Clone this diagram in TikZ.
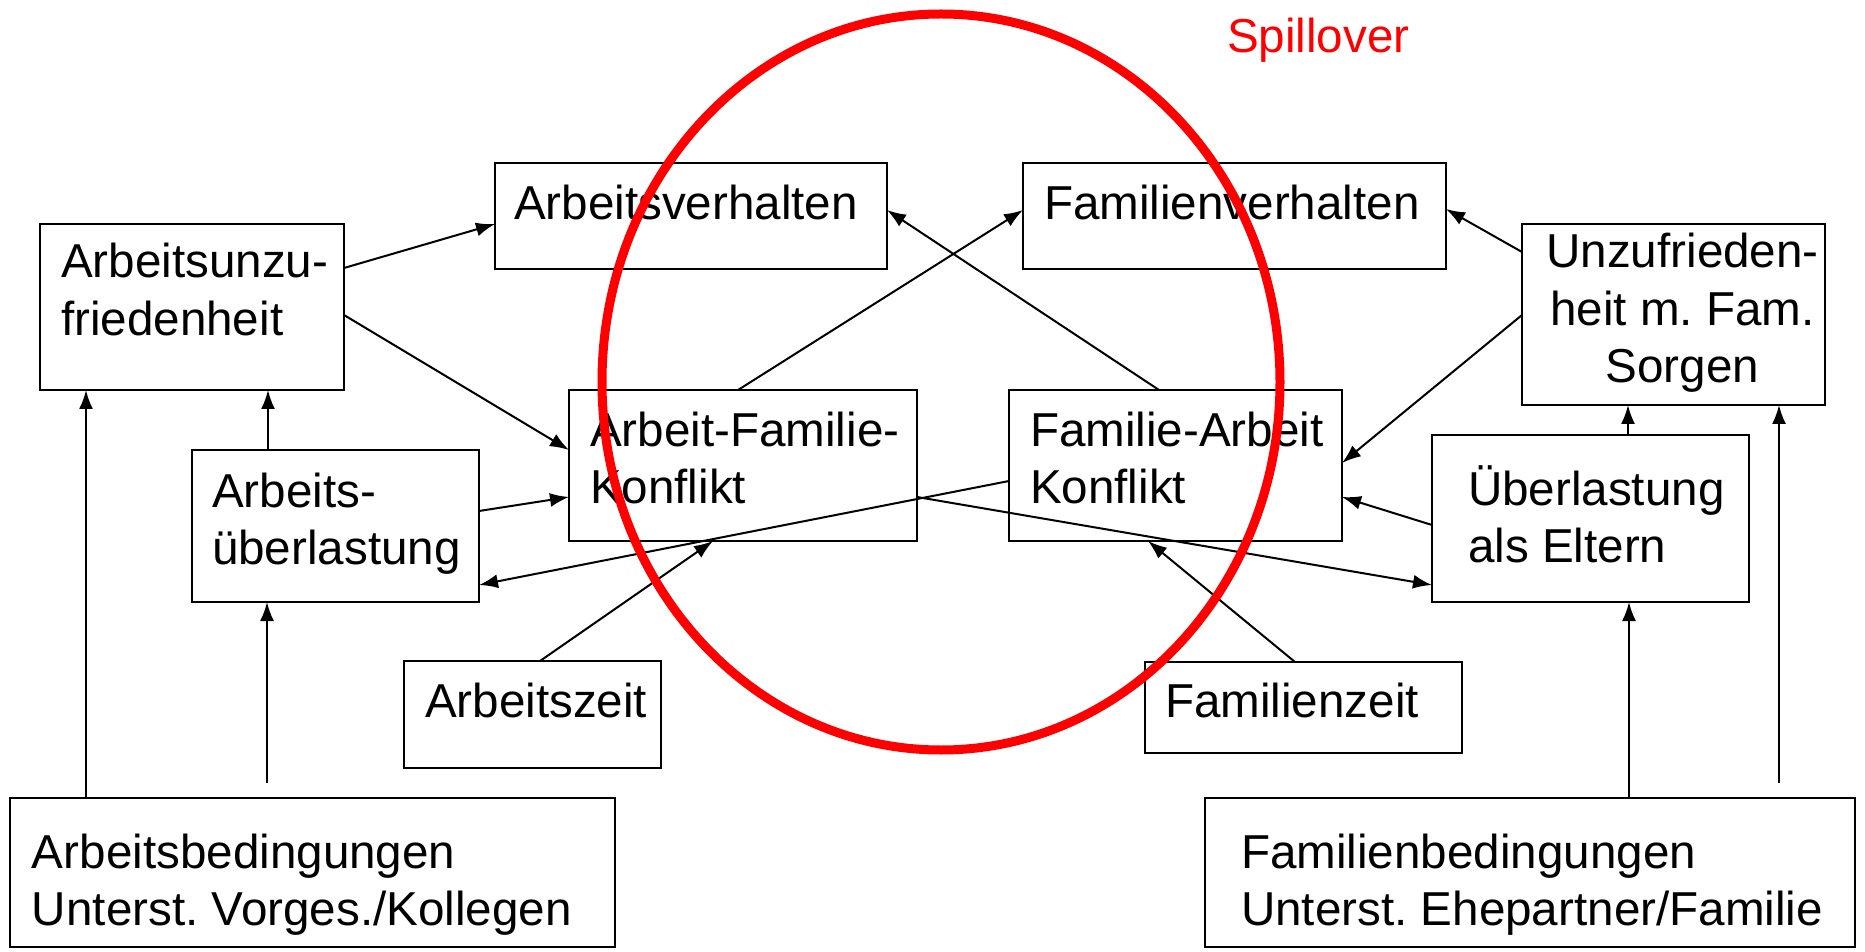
\documentclass[tikz,border=0pt]{standalone}
\usepackage{fontspec}
\setmainfont{Liberation Sans}
\usepackage{tikz}
\usetikzlibrary{calc,arrows.meta}
\frenchspacing

\newdimen\pxu \pxu=0.5pt
\newcommand{\feld}[5]{\parbox[c][#2\pxu][t]{#1\pxu}{\raggedright\leftskip=#3\pxu\rule{0pt}{#4\pxu}#5}}
\newcommand{\feldmitte}[5]{\parbox[c][#2\pxu][t]{#1\pxu}{\centering\leftskip=#3\pxu plus 1fil\rule{0pt}{#4\pxu}#5}}

\begin{document}
\begin{tikzpicture}[x=0.5pt,y=-0.5pt,line width=1pt,
  >={Latex[length=9.5pt,width=7pt]},
  font=\fontsize{23.8}{28.7}\selectfont,
  kasten/.style={draw,inner sep=0pt,outer sep=0pt,anchor=north west}]
\useasboundingbox (0,0) rectangle (1865,952);

\node[kasten] (av) at (495,163) {\feld{392}{106}{19}{57}{Arbeitsverhalten}};
\node[kasten] (fv) at (1023,163) {\feld{423}{106}{21}{57}{Familienverhalten}};
\node[kasten] (au) at (40,224) {\feld{304}{166}{21}{54}{Arbeitsunzu-\\friedenheit}};
\node[kasten] (uf) at (1522,224) {\feldmitte{303}{181}{18}{44}{Unzufrieden-\\heit m. Fam.\\Sorgen}};
\node[kasten] (afk) at (569,390) {\feld{348}{151}{21}{56}{Arbeit-Familie-\\Konflikt}};
\node[kasten] (fak) at (1009,390) {\feld{333}{151}{21}{56}{Familie-Arbeit\\Konflikt}};
\node[kasten] (aue) at (192,450) {\feld{287}{152}{20}{57}{Arbeits-\\überlastung}};
\node[kasten] (ue) at (1432,435) {\feld{317}{167}{36}{70}{Überlastung\\als Eltern}};
\node[kasten] (az) at (404,661) {\feld{257}{107}{21}{56}{Arbeitszeit}};
\node[kasten] (fz) at (1145,662) {\feld{317}{91}{20}{55}{Familienzeit}};
\node[kasten] (ab) at (10,798) {\feld{605}{149}{22}{70}{Arbeitsbedingungen\\Unterst. Vorges./Kollegen}};
\node[kasten] (fb) at (1205,798) {\feld{650}{149}{36}{70}{Familienbedingungen\\Unterst. Ehepartner/Familie}};
\node[text=red,inner sep=0pt,anchor=base west] (spill) at (1226,53) {Spillover};

\coordinate (abpfeil) at (267,783);
\coordinate (fbpfeil) at (1779,783);

\draw[->] ($(au.north east)+(0,44)$) -- ($(av.north west)+(0,61)$);
\draw[->] ($(au.north east)+(0,91)$) -- ($(afk.north west)+(0,60)$);
\draw[->] ($(aue.north west)+(76,0)$) -- ($(au.south west)+(228,0)$);
\draw[->] ($(ab.north west)+(76,0)$) -- ($(au.south west)+(46,0)$);
\draw[->] (abpfeil) -- (abpfeil |- aue.south);
\draw[->] ($(aue.north east)+(0,61)$) -- ($(afk.north west)+(0,107)$);
\draw[->] ($(fak.north west)+(0,91)$) -- ($(aue.north east)+(0,135)$);
\draw[->] ($(afk.north west)+(169,0)$) -- ($(fv.north west)+(0,47)$);
\draw[->] ($(fak.north west)+(150,0)$) -- ($(av.north east)+(0,47)$);
\draw[->] ($(az.north west)+(136,0)$) -- ($(afk.south west)+(144,0)$);
\draw[->] ($(fz.north west)+(150,0)$) -- ($(fak.south west)+(139,0)$);
\draw[->] ($(afk.north east)+(0,107)$) -- ($(ue.north west)+(0,150)$);
\draw[->] ($(uf.north west)+(0,28)$) -- ($(fv.north east)+(0,46)$);
\draw[->] ($(uf.north west)+(0,91)$) -- ($(fak.north east)+(0,73)$);
\draw[->] ($(ue.north west)+(0,90)$) -- ($(fak.north east)+(0,107)$);
\draw[->] ($(ue.north west)+(196,0)$) -- ($(uf.south west)+(106,0)$);
\draw[->] ($(fb.north west)+(424,0)$) -- ($(ue.south west)+(197,0)$);
\draw[->] (fbpfeil) -- (fbpfeil |- uf.south);

\draw[red,line width=4.5pt] (941,382) ellipse [x radius=169.5pt,y radius=184pt];
\end{tikzpicture}
\end{document}
